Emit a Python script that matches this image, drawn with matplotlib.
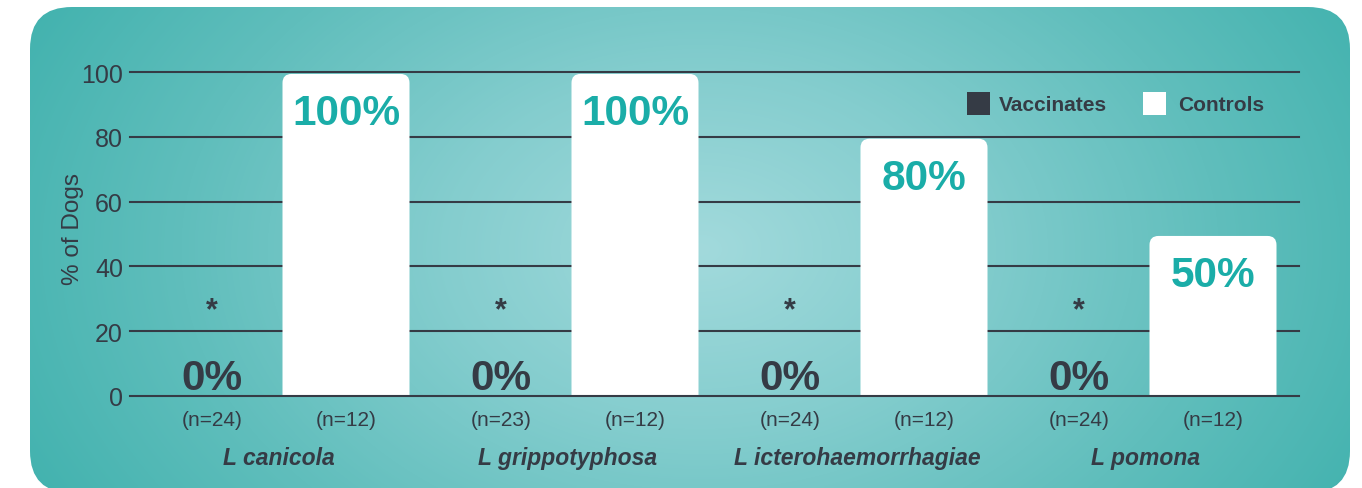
import numpy as np
import matplotlib
matplotlib.use("Agg")
import matplotlib.pyplot as plt
from matplotlib.patches import FancyBboxPatch, Rectangle
from matplotlib.colors import LinearSegmentedColormap

# ---- data ----
strains = ["L canicola", "L grippotyphosa", "L icterohaemorrhagiae", "L pomona"]
vaccinates = [0, 0, 0, 0]
controls = [100, 100, 80, 50]
n_vacc = [24, 23, 24, 24]
n_ctrl = [12, 12, 12, 12]
yticks = [0, 20, 40, 60, 80, 100]

DARK = "#353b45"
TEAL = "#1aada8"

plt.rcParams['font.family'] = ['Liberation Sans', 'DejaVu Sans']

W, H = 1362, 489
fig = plt.figure(figsize=(W / 100, H / 100), dpi=100)
fig.patch.set_facecolor("white")

# ---- background panel with radial gradient ----
bg = fig.add_axes([0, 0, 1, 1], zorder=0)
bg.set_xlim(0, W)
bg.set_ylim(H, 0)
bg.axis("off")
yy, xx = np.mgrid[0:H, 0:W]
cx, cy = 700, 250
r = np.sqrt(((xx - cx) / 780.0) ** 2 + ((yy - cy) / 540.0) ** 2)
r = np.clip(r, 0, 1)
cmap = LinearSegmentedColormap.from_list("bg", ["#a2dadc", "#84cdce", "#60bebc", "#3fb1ad"])
im = bg.imshow(r, cmap=cmap, extent=(0, W, H, 0), aspect="auto", vmin=0, vmax=1, zorder=0)
panel = FancyBboxPatch((30, 8), 1320, 486, boxstyle="round,pad=0,rounding_size=42",
                       transform=bg.transData, facecolor="none", edgecolor="none")
bg.add_patch(panel)
im.set_clip_path(panel)

# ---- main axes ----
x0, x1 = 130, 1299
yb, yt = 397, 73
ax = fig.add_axes([x0 / W, (H - yb) / H, (x1 - x0) / W, (yb - yt) / H], zorder=1)
ax.patch.set_alpha(0)

group_step = 289.0
off = 134.0 / group_step
bw = 127.0 / group_step
xs = np.arange(len(strains))
ax.set_xlim((x0 - 212) / group_step, (x1 - 212) / group_step)
ax.set_ylim(0, 100)

for y in yticks:
    ax.axhline(y, color=DARK, lw=1.5, zorder=1 if y else 4, clip_on=False)

vb = ax.bar(xs, vaccinates, width=bw, color=DARK, zorder=2)
cb = ax.bar(xs + off, controls, width=bw, color="white", zorder=2)

# replace control bars with rounded-top versions
px_x = group_step
px_y = (yb - yt) / 100.0
rad_px = 9
for b in cb:
    b.set_visible(False)
    rs = rad_px / px_x
    p = FancyBboxPatch((b.get_x(), -10), b.get_width(), b.get_height() + 10 - 0.6,
                       boxstyle=f"round,pad=0,rounding_size={rs}",
                       mutation_aspect=(rad_px / px_y) / rs,
                       facecolor="white", edgecolor="none", zorder=3, clip_on=True)
    ax.add_patch(p)
    ax.text(b.get_x() + b.get_width() / 2, b.get_height() - 16, f"{b.get_height():.0f}%",
            ha="center", va="baseline", fontsize=30.5, fontweight="bold", color=TEAL, zorder=5)

for b in vb:
    xc = b.get_x() + b.get_width() / 2
    ax.text(xc, b.get_height() + 2.2, f"{b.get_height():.0f}%", ha="center", va="baseline",
            fontsize=30.5, fontweight="bold", color=DARK, zorder=5)
    ax.text(xc, 26.5, "*", ha="center", va="center", fontsize=22, fontweight="bold",
            color=DARK, zorder=5)

# n labels and strain names
for i in xs:
    ax.text(i, -7.3, f"(n={n_vacc[i]})", ha="center", va="center", fontsize=15, color=DARK,
            clip_on=False)
    ax.text(i + off, -7.3, f"(n={n_ctrl[i]})", ha="center", va="center", fontsize=15,
            color=DARK, clip_on=False)
    ax.text(i + off / 2, -19, strains[i], ha="center", va="center", fontsize=16.5,
            fontweight="bold", fontstyle="italic", color=DARK, clip_on=False)

ax.set_xticks([])
ax.set_yticks(yticks)
ax.set_yticklabels([str(v) for v in yticks], fontsize=18, color=DARK)
ax.tick_params(axis="y", length=0, pad=5)
for s in ax.spines.values():
    s.set_visible(False)
ax.set_ylabel("% of Dogs", fontsize=17.5, color=DARK)
ax.yaxis.set_label_coords(-0.0393, 0.52)

# legend
lx = (967 - 212) / group_step
lw = 23 / group_step
ax.add_patch(Rectangle((lx, 86.6), lw, 23 / px_y, facecolor=DARK, edgecolor="none",
                       zorder=5, clip_on=False))
ax.text((999 - 212) / group_step, 90.0, "Vaccinates", ha="left", va="center", fontsize=15,
        fontweight="bold", color=DARK)
lx2 = (1143 - 212) / group_step
ax.add_patch(Rectangle((lx2, 86.6), lw, 23 / px_y, facecolor="white", edgecolor="none",
                       zorder=5, clip_on=False))
ax.text((1178 - 212) / group_step, 90.0, "Controls", ha="left", va="center", fontsize=15,
        fontweight="bold", color=DARK)

fig.savefig("out.png", dpi=100)
